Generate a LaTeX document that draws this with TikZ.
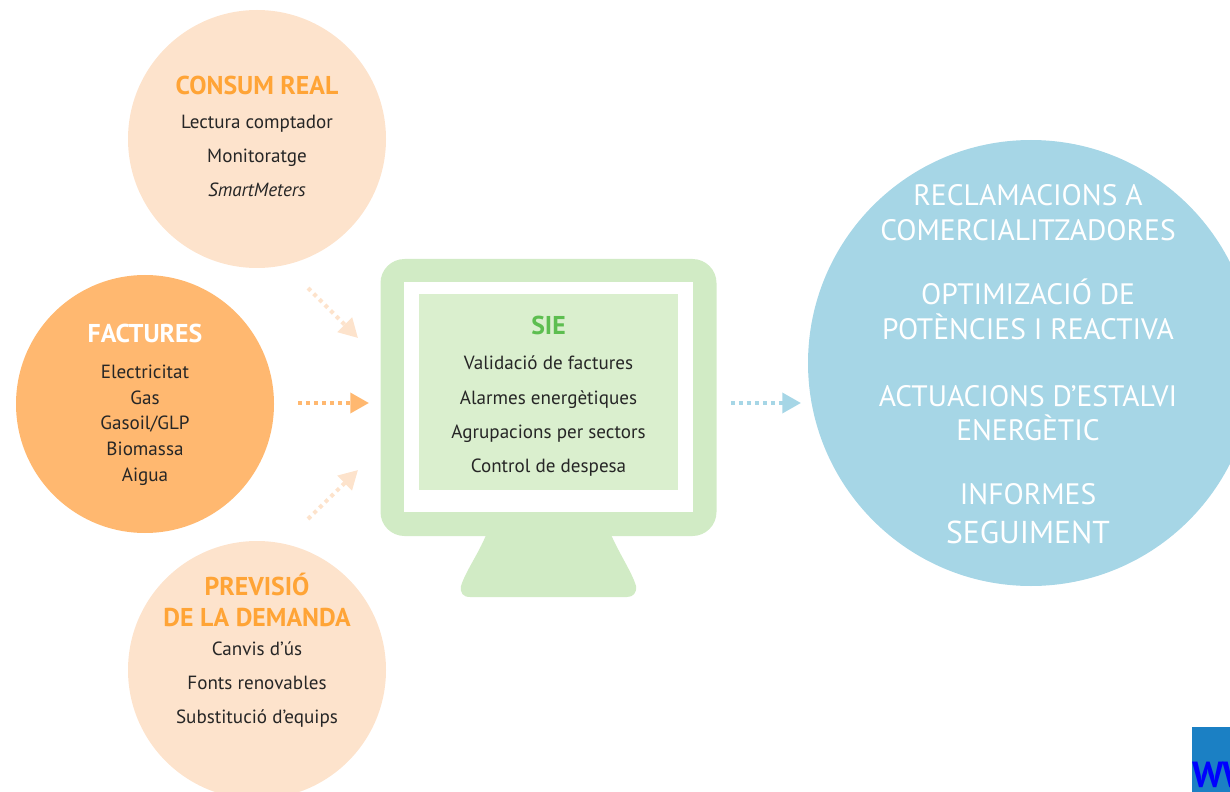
\documentclass[tikz,border=0pt]{standalone}
\usepackage{fontspec}
\setmainfont{PT Sans}
\usetikzlibrary{arrows.meta}
\definecolor{paleorange}{HTML}{FDE3CC}
\definecolor{midorange}{HTML}{FFB870}
\definecolor{titleorange}{HTML}{FFA436}
\definecolor{paleblue}{HTML}{A6D6E6}
\definecolor{screengreen}{HTML}{D1EBC5}
\definecolor{panelgreen}{HTML}{DAEFCE}
\definecolor{titlegreen}{HTML}{5DBE50}
\definecolor{cornerblue}{HTML}{1B80C4}
\tikzset{
    bubble/.style={circle, inner sep=0pt, minimum size=258*0.03cm},
    item/.style={font=\fontsize{16.3}{18}\selectfont, text=black!85, text height=15pt, text depth=3.5pt},
    heading/.style={font=\fontsize{22}{24}\selectfont\bfseries, text height=15.6pt, text depth=0pt},
    result/.style={font=\fontsize{25.2}{26}\selectfont, text=white, text height=17.4pt, text depth=0pt},
    flow/.style={line width=3.4pt, dash pattern=on 3.4pt off 3.4pt, -{Triangle[length=16pt,width=17pt]}},
}
\begin{document}
\begin{tikzpicture}[x=0.03cm,y=-0.03cm]

    \useasboundingbox (0,0) rectangle (1230,792);
    \clip (0,0) rectangle (1230,792);

    \node[bubble, fill=paleorange] (consum) at (257,139) {};
    \node[bubble, fill=midorange] (factures) at (145,404) {};
    \node[bubble, fill=paleorange] (previsio) at (257,670) {};
    \node[circle, inner sep=0pt, minimum size=446*0.03cm, fill=paleblue] (accions) at (1031,363) {};

    \node[heading, text=titleorange] (consumtitle) at (257,85) {CONSUM REAL};
    \node[item] (lectura) at (257,122) {Lectura comptador};
    \node[item] (monitor) at (257,156) {Monitoratge};
    \node[item, font=\fontsize{16.3}{18}\selectfont\itshape] (smart) at (257,190) {SmartMeters};

    \node[heading, text=white] (facturestitle) at (145,333) {FACTURES};
    \node[item] (elec) at (145,372) {Electricitat};
    \node[item] (gas) at (145,398) {Gas};
    \node[item] (gasoil) at (145,423) {Gasoil/GLP};
    \node[item] (biomassa) at (145,449) {Biomassa};
    \node[item] (aigua) at (145,475) {Aigua};

    \node[heading, text=titleorange] (previsiotitle) at (257,586) {PREVISIÓ};
    \node[heading, text=titleorange] (demanda) at (257,617) {DE LA DEMANDA};
    \node[item] (canvis) at (257,649) {Canvis d’ús};
    \node[item] (fonts) at (257,683) {Fonts renovables};
    \node[item] (substitucio) at (257,717) {Substitució d’equips};

    \fill[screengreen] (488,530) -- (609,530) .. controls (618,552) and (632,572) .. (636,586)
        .. controls (637,593) and (633,597) .. (627,597) -- (470,597)
        .. controls (463,597) and (460,593) .. (461,586) .. controls (466,570) and (480,552) .. (488,530) -- cycle;
    \node[fill=screengreen, rounded corners=24*0.03cm, minimum width=336*0.03cm, minimum height=277*0.03cm, inner sep=0pt] (monitorbody) at (548.5,397.5) {};
    \node[fill=white, minimum width=289*0.03cm, minimum height=230*0.03cm, inner sep=0pt] (screen) at (548.5,397) {};
    \node[fill=panelgreen, minimum width=259*0.03cm, minimum height=196*0.03cm, inner sep=0pt] (panel) at (548.5,392) {};

    \node[heading, text=titlegreen] (sie) at (548.5,325) {SIE};
    \node[item] (validacio) at (548.5,363) {Validació de factures};
    \node[item] (alarmes) at (548.5,398) {Alarmes energètiques};
    \node[item] (agrupacions) at (548.5,432) {Agrupacions per sectors};
    \node[item] (control) at (548.5,466) {Control de despesa};

    \node[result] (recl) at (1028,195) {RECLAMACIONS A};
    \node[result] (comer) at (1028,230) {COMERCIALITZADORES};
    \node[result] (optim) at (1028,294) {OPTIMIZACIÓ DE};
    \node[result] (poten) at (1028,329) {POTÈNCIES I REACTIVA};
    \node[result] (actua) at (1028,396) {ACTUACIONS D’ESTALVI};
    \node[result] (energ) at (1028,430) {ENERGÈTIC};
    \node[result] (infor) at (1028,494) {INFORMES};
    \node[result, font=\fontsize{27}{28}\selectfont] (segui) at (1028,533) {SEGUIMENT};

    \coordinate (topstart) at (308,288);
    \coordinate (topend) at (358,338);
    \coordinate (midstart) at (298,403);
    \coordinate (midend) at (369,403);
    \coordinate (lowstart) at (308,519);
    \coordinate (lowend) at (358,470);
    \coordinate (outstart) at (731,403);
    \coordinate (outend) at (801,403);

    \draw[flow, color=paleorange] (topstart) -- (topend);
    \draw[flow, color=midorange] (midstart) -- (midend);
    \draw[flow, color=paleorange] (lowstart) -- (lowend);
    \draw[flow, color=paleblue] (outstart) -- (outend);

    \fill[cornerblue] (1192,727) rectangle (1230,792);
    \node[anchor=base west, inner sep=0pt, text=blue, font=\fontsize{31}{31}\selectfont\bfseries] (www) at (1192,787) {WW};

\end{tikzpicture}
\end{document}
